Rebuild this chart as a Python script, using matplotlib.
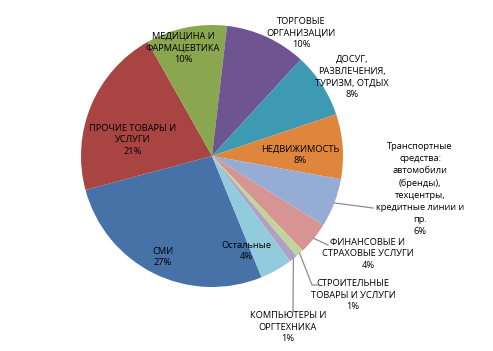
import numpy as np
import matplotlib
matplotlib.use("Agg")
import matplotlib.pyplot as plt

# Data (clockwise order, Excel style)
labels = ["СМИ", "ПРОЧИЕ ТОВАРЫ И\nУСЛУГИ", "МЕДИЦИНА И\nФАРМАЦЕВТИКА",
          "ТОРГОВЫЕ\nОРГАНИЗАЦИИ", "ДОСУГ,\nРАЗВЛЕЧЕНИЯ,\nТУРИЗМ, ОТДЫХ",
          "НЕДВИЖИМОСТЬ",
          "Транспортные\nсредства:\nавтомобили\n(бренды),\nтехцентры,\nкредитные линии и\nпр.",
          "ФИНАНСОВЫЕ И\nСТРАХОВЫЕ УСЛУГИ", "СТРОИТЕЛЬНЫЕ\nТОВАРЫ И УСЛУГИ",
          "КОМПЬЮТЕРЫ И\nОРГТЕХНИКА", "Остальные"]
values = [27, 21, 10, 10, 8, 8, 6, 4, 1, 1, 4]
colors = ["#4672A8", "#A84442", "#8AA64F", "#6E5591", "#3E9AB3", "#E0853C",
          "#95ACD4", "#D69492", "#C1D599", "#B1A0C6", "#92CBDB"]

# label placement in pixels (x, y from top) and leader line bend points
label_pos = [(163, 257), (133, 140), (183, 48), (301, 33), (352, 77), (300, 155),
             (420, 189), (368, 254), (353, 295), (288, 327), (246, 251)]
leader_end = [None, None, None, None, None, None,
              [(373, 208)], [(328, 245)], [(312, 285), (317, 285)],
              [(293, 312)], None]

W, H = 493, 351
fig = plt.figure(figsize=(W / 100, H / 100), dpi=100)
ax = fig.add_axes([0, 0, 1, 1])

cx, cy, r = 212, H - 156, 131
start = 90 - 157.8
wedges, _ = ax.pie(values, colors=colors, startangle=start, counterclock=False,
                   center=(cx, cy), radius=r, frame=True,
                   wedgeprops=dict(linewidth=0))
ax.set_xlim(0, W)
ax.set_ylim(0, H)
ax.set_aspect("equal")
ax.axis("off")

font = ["Open Sans", "DejaVu Sans"]
for w, lab, v, pos, le in zip(wedges, labels, values, label_pos, leader_end):
    ax.text(pos[0], H - pos[1], f"{lab}\n{v}%", ha="center", va="center",
            fontsize=6.7, family=font, color="black", linespacing=1.42)
    if le:
        mid = np.deg2rad((w.theta1 + w.theta2) / 2)
        xs = [cx + r * np.cos(mid)] + [p[0] for p in le]
        ys = [cy + r * np.sin(mid)] + [H - p[1] for p in le]
        ax.plot(xs, ys, color="#8C8C8C", lw=0.9)

fig.savefig("out.png", dpi=100)
